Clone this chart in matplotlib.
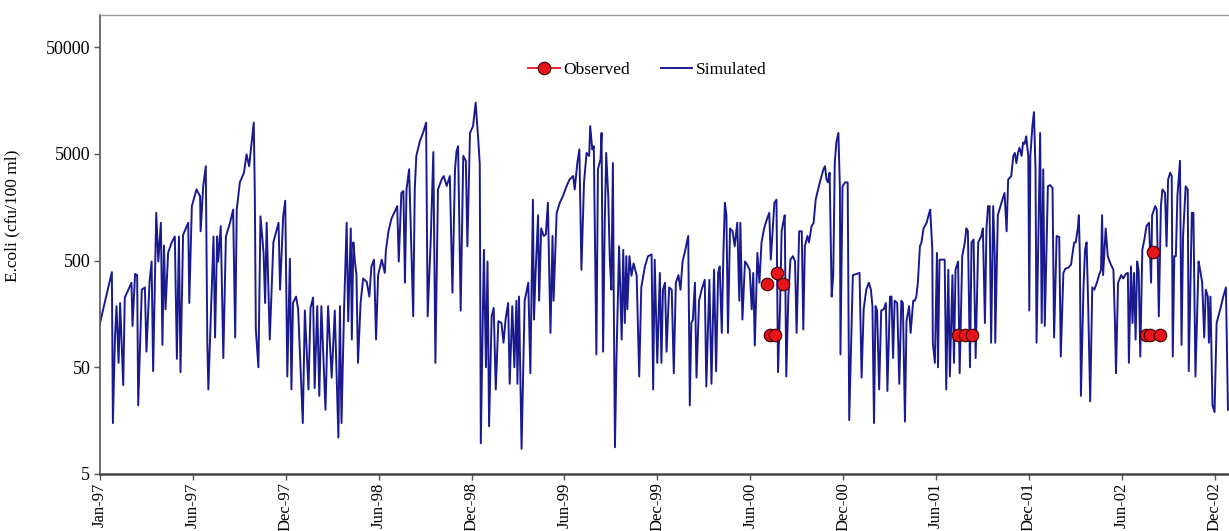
import matplotlib
matplotlib.use("Agg")
import matplotlib.pyplot as plt
import matplotlib.dates as mdates
from matplotlib.lines import Line2D
from matplotlib.ticker import NullLocator
import numpy as np

# days counted from 1 Jan 1997
start = np.datetime64("1997-01-01")

sim_day = [
    0, 23, 25, 29, 32, 36, 39, 45, 48, 55,
    61, 63, 68, 72, 74, 81, 87, 90, 96, 100,
    103, 109, 113, 118, 121, 124, 127, 132, 139, 145,
    149, 153, 156, 161, 171, 173, 178, 187, 194, 195,
    200, 205, 208, 210, 220, 223, 227, 229, 234, 239,
    244, 252, 258, 262, 265, 271, 279, 284, 289, 294,
    298, 300, 302, 307, 311, 317, 320, 323, 329, 336,
    346, 349, 355, 359, 363, 368, 371, 374, 380, 384,
    393, 397, 404, 408, 413, 416, 421, 425, 429, 437,
    442, 449, 455, 462, 465, 468, 473, 478, 481, 486,
    488, 491, 494, 497, 500, 505, 510, 517, 522, 526,
    531, 535, 539, 546, 552, 554, 559, 565, 571, 576,
    579, 584, 588, 591, 594, 599, 602, 607, 610, 613,
    620, 626, 632, 635, 641, 646, 650, 655, 662, 666,
    672, 678, 683, 688, 691, 694, 699, 704, 709, 712,
    717, 723, 728, 733, 736, 738, 744, 748, 751, 754,
    759, 763, 767, 772, 778, 782, 786, 791, 794, 799,
    803, 807, 809, 812, 817, 823, 830, 834, 839, 841,
    844, 849, 851, 855, 860, 864, 868, 873, 877, 879,
    885, 891, 897, 904, 910, 917, 920, 925, 929, 933,
    938, 943, 948, 950, 954, 957, 962, 965, 970, 972,
    975, 978, 981, 985, 988, 991, 994, 996, 998, 1001,
    1006, 1011, 1014, 1017, 1020, 1022, 1026, 1030, 1034, 1040,
    1045, 1049, 1056, 1062, 1069, 1072, 1075, 1080, 1085, 1088,
    1091, 1095, 1098, 1103, 1108, 1112, 1116, 1121, 1125, 1129,
    1133, 1140, 1143, 1146, 1149, 1153, 1156, 1161, 1166, 1172,
    1175, 1181, 1185, 1190, 1194, 1198, 1201, 1205, 1208, 1211,
    1214, 1217, 1221, 1226, 1230, 1235, 1239, 1241, 1245, 1250,
    1254, 1259, 1263, 1266, 1269, 1274, 1278, 1282, 1287, 1292,
    1297, 1300, 1303, 1307, 1311, 1314, 1318, 1321, 1324, 1327,
    1330, 1334, 1338, 1343, 1347, 1350, 1355, 1360, 1363, 1366,
    1371, 1374, 1379, 1383, 1387, 1390, 1395, 1402, 1405, 1408,
    1411, 1414, 1418, 1421, 1424, 1427, 1431, 1434, 1435, 1439,
    1444, 1449, 1452, 1459, 1466, 1472, 1476, 1480, 1485, 1490,
    1494, 1497, 1500, 1503, 1506, 1510, 1514, 1519, 1523, 1526,
    1531, 1534, 1537, 1540, 1545, 1549, 1553, 1556, 1560, 1563,
    1568, 1571, 1576, 1579, 1582, 1585, 1589, 1592, 1596, 1602,
    1607, 1609, 1613, 1614, 1618, 1622, 1624, 1627, 1632, 1637,
    1640, 1644, 1647, 1652, 1655, 1658, 1663, 1666, 1671, 1676,
    1679, 1682, 1686, 1689, 1693, 1697, 1702, 1708, 1711, 1715,
    1718, 1721, 1724, 1727, 1731, 1734, 1735, 1740, 1747, 1753,
    1757, 1760, 1766, 1770, 1773, 1776, 1779, 1782, 1786, 1789,
    1792, 1795, 1799, 1801, 1803, 1807, 1810, 1813, 1815, 1822,
    1825, 1828, 1831, 1837, 1841, 1846, 1849, 1854, 1859, 1862,
    1867, 1871, 1877, 1882, 1884, 1888, 1891, 1895, 1897, 1899,
    1901, 1906, 1909, 1912, 1915, 1919, 1923, 1927, 1932, 1936,
    1940, 1942, 1944, 1949, 1953, 1956, 1959, 1964, 1967, 1969,
    1973, 1979, 1983, 1988, 1992, 1994, 1998, 2001, 2004, 2007,
    2010, 2013, 2016, 2020, 2024, 2028, 2033, 2037, 2039, 2045,
    2048, 2052, 2056, 2059, 2064, 2067, 2070, 2074, 2077, 2079,
    2082, 2085, 2088, 2093, 2096, 2099, 2104, 2108, 2110, 2116,
    2119, 2123, 2129, 2132, 2136, 2140, 2143, 2147, 2149, 2152,
    2156, 2160, 2164, 2171, 2177, 2182, 2186,
]

sim_val = [
    130, 390, 15, 95, 187, 55, 200, 34, 225, 267,
    310, 122, 375, 365, 22, 267, 280, 70, 315, 490,
    46, 1400, 490, 1130, 81, 690, 175, 590, 740, 840,
    60, 840, 45, 870, 1130, 200, 1620, 2320, 2000, 940,
    2480, 3830, 85, 31, 840, 95, 840, 490, 1050, 61,
    840, 1130, 1500, 95, 1500, 2700, 3330, 4950, 3830, 6400,
    9820, 2150, 113, 50, 1300, 590, 200, 1130, 91, 740,
    1130, 267, 1300, 1820, 41, 520, 31, 200, 230, 175,
    15, 170, 31, 180, 225, 32, 187, 27, 187, 20,
    187, 40, 170, 11, 187, 15, 175, 1130, 135, 1000,
    91, 740, 490, 365, 55, 200, 340, 315, 230, 440,
    510, 91, 365, 510, 383, 620, 940, 1240, 1430, 1620,
    490, 2150, 2240, 310, 2320, 3580, 1130, 150, 2320, 4780,
    6600, 7850, 9800, 150, 787, 5200, 55, 2320, 2870, 3100,
    2500, 3100, 250, 3580, 5300, 5900, 170, 4780, 4300, 680,
    7850, 9100, 15100, 6850, 4000, 9.7, 630, 50, 490, 14,
    150, 180, 31, 135, 130, 85, 140, 200, 35, 187,
    50, 210, 35, 230, 8.6, 210, 310, 44, 1860, 140,
    365, 1330, 210, 1000, 850, 880, 1740, 105, 850, 210,
    1400, 1740, 2000, 2480, 2870, 3100, 2320, 4100, 5500, 410,
    2700, 5100, 4780, 9100, 5500, 5900, 66, 3580, 4450, 7850,
    70, 1000, 5100, 2000, 510, 267, 4100, 130, 8.9, 63,
    680, 91, 630, 130, 550, 175, 550, 360, 470, 365,
    41, 280, 440, 549, 570, 31, 510, 55, 383, 55,
    267, 310, 70, 280, 267, 44, 310, 365, 267, 490,
    590, 850, 22, 130, 140, 310, 40, 210, 267, 330,
    33, 330, 35, 410, 46, 383, 440, 105, 550, 1740,
    1330, 105, 1000, 940, 680, 1130, 210, 1130, 140, 490,
    460, 410, 175, 383, 80, 590, 310, 740, 1000, 1200,
    1400, 510, 850, 1740, 1860, 45, 187, 940, 1130, 1330,
    41, 230, 510, 550, 490, 105, 940, 940, 113, 680,
    850, 740, 1050, 1130, 1860, 2150, 2700, 3580, 3830, 2870,
    2700, 3330, 230, 365, 4100, 6400, 7850, 2320, 66, 2480,
    2700, 2700, 16, 365, 375, 383, 40, 175, 267, 310,
    267, 187, 15, 187, 170, 31, 170, 175, 200, 30,
    230, 230, 61, 210, 200, 35, 210, 200, 15.5, 135,
    187, 105, 210, 210, 230, 310, 680, 740, 1000, 1130,
    1400, 1500, 630, 85, 55, 590, 50, 510, 510, 510,
    31, 410, 41, 365, 55, 410, 490, 44, 549, 740,
    1000, 940, 50, 740, 787, 61, 740, 850, 1000, 130,
    1000, 1620, 1620, 85, 1620, 549, 85, 1330, 1740, 2150,
    940, 2870, 3100, 4780, 5100, 4100, 5100, 5700, 4780, 6400,
    6200, 7300, 4780, 170, 4780, 9100, 12300, 3580, 85, 7850,
    130, 3580, 122, 2480, 2550, 2400, 95, 850, 830, 63,
    383, 420, 430, 460, 549, 740, 740, 1000, 1330, 549,
    27, 280, 630, 740, 200, 24, 280, 267, 310, 365,
    410, 1330, 365, 1000, 549, 500, 460, 410, 130, 44,
    310, 365, 340, 375, 383, 55, 440, 130, 383, 91,
    490, 400, 63, 630, 787, 1050, 1130, 310, 1330, 1620,
    1500, 150, 1620, 2320, 2150, 680, 2870, 3330, 3100, 63,
    549, 549, 2000, 4300, 81, 850, 2480, 2320, 46, 1400,
    1400, 41, 490, 410, 310, 95, 267, 230, 85, 230,
    22, 19, 130, 175, 230, 280, 20,
]

obs_day = [1293, 1298, 1308, 1312, 1324, 1663, 1676, 1690, 2027, 2035, 2041, 2054]
obs_val = [300, 100, 100, 380, 300, 100, 100, 100, 100, 100, 600, 100]

tick_day = list(range(0, 2161, 180))   # Excel-style 180-day major unit
y_ticks = [5, 50, 500, 5000, 50000]

plt.rcParams["font.family"] = ["Liberation Serif", "DejaVu Serif"]

fig = plt.figure(figsize=(12.29, 5.31), dpi=100)
ax = fig.add_axes([100 / 1229, 57 / 531, 1129 / 1229, 459 / 531])

sim_t = start + np.array(sim_day).astype("timedelta64[D]")
obs_t = start + np.array(obs_day).astype("timedelta64[D]")
tick_t = start + np.array(tick_day).astype("timedelta64[D]")

blue = "#1a1a90"
red = "#e8141c"
edge = "#3a0000"

ax.plot(sim_t, sim_val, color=blue, lw=1.4)
ax.plot(obs_t, obs_val, "o", ms=9, mfc=red, mec=edge, mew=0.8)

ax.set_yscale("log")
ax.set_ylim(5, 100000)
ax.set_yticks(y_ticks)
ax.set_yticklabels([str(v) for v in y_ticks])
ax.yaxis.set_minor_locator(NullLocator())

ax.set_xlim(start, start + np.timedelta64(2188, "D"))
ax.set_xticks(tick_t)
ax.xaxis.set_major_formatter(mdates.DateFormatter("%b-%y"))
plt.setp(ax.get_xticklabels(), rotation=90)

ax.tick_params(axis="both", direction="out", length=4, width=1,
               color="#555555", pad=3)
ax.tick_params(axis="y", labelsize=13)
ax.tick_params(axis="x", labelsize=12, pad=2)

ax.spines["right"].set_visible(False)
ax.spines["top"].set_color("#999999")
ax.spines["top"].set_linewidth(1.0)
ax.spines["left"].set_color("#555555")
ax.spines["left"].set_linewidth(1.2)
ax.spines["bottom"].set_color("#444444")
ax.spines["bottom"].set_linewidth(1.8)

ax.set_ylabel("E.coli (cfu/100 ml)", fontsize=12.5)
ax.yaxis.set_label_coords(-0.0709, 0.562)

handles = [
    Line2D([], [], color=red, lw=1.3, marker="o", ms=9, mfc=red, mec=edge, mew=0.8),
    Line2D([], [], color=blue, lw=1.4),
]
ax.legend(handles, ["Observed", "Simulated"], loc="center",
          bbox_to_anchor=(0.485, 0.88), ncol=2, frameon=False, fontsize=12.5,
          handlelength=1.8, handletextpad=0.2, columnspacing=1.8)

fig.savefig("out.png", dpi=100)
